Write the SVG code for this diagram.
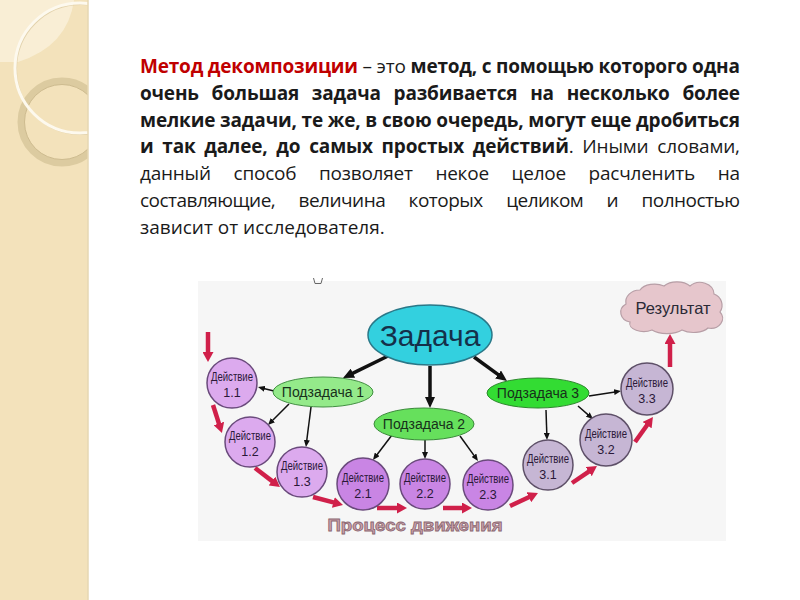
<svg xmlns="http://www.w3.org/2000/svg" width="800" height="600" viewBox="0 0 800 600">
<defs>
<style>
.p{font-family:"Open Sans","Noto Sans",sans-serif;font-size:19px;fill:#1a1a1a}
.b{font-weight:bold}
.red{fill:#c00000}
.lbl{font-family:"Liberation Sans",Arial,sans-serif;text-anchor:middle}
.act{font-size:12.5px;fill:#2a1838}
.sub{font-size:14px;fill:#17301a}
.c1{fill:#dcaaee;stroke:#6a4a7c;stroke-width:1.5}
.c2{fill:#c985e4;stroke:#6a4a7c;stroke-width:1.5}
.c3{fill:#c6b6d4;stroke:#5e5068;stroke-width:1.5}
.thick{stroke:#111;stroke-width:3.5;fill:none}
.thin{stroke:#111;stroke-width:1.5;fill:none}
.redl{stroke:#d0204a;stroke-width:4.5;fill:none}
</style>
<clipPath id="stripe"><rect x="0" y="0" width="88" height="600"/></clipPath>
<marker id="ahB" markerUnits="userSpaceOnUse" markerWidth="11" markerHeight="10" refX="1" refY="5" orient="auto"><path d="M0,0 L11,5 L0,10 Z" fill="#111"/></marker>
<marker id="ahT" markerUnits="userSpaceOnUse" markerWidth="7" markerHeight="6" refX="1" refY="3" orient="auto"><path d="M0,0 L7,3 L0,6 Z" fill="#111"/></marker>
<marker id="ahR" markerUnits="userSpaceOnUse" markerWidth="10" markerHeight="11" refX="1" refY="5.5" orient="auto"><path d="M0,0 L10,5.5 L0,11 Z" fill="#d0204a"/></marker>
</defs>

<rect width="800" height="600" fill="#ffffff"/>

<g id="decor">
<rect x="0" y="0" width="88" height="600" fill="#f3e2bb"/>
<g clip-path="url(#stripe)">
<path d="M0,0 H74 Q68,46 18,62 H0 Z" fill="#fbf3e0" opacity="0.7"/>
<circle cx="62" cy="122" r="41" fill="none" stroke="#dccba0" stroke-width="7"/>
<circle cx="62" cy="122" r="37.5" fill="none" stroke="#cdbb8f" stroke-width="1"/>
<circle cx="81" cy="69" r="65" fill="none" stroke="#d8c69a" stroke-width="2" opacity="0.7"/>
<circle cx="80" cy="68" r="65" fill="none" stroke="#fdf9ee" stroke-width="3"/>
</g>
<line x1="88" y1="0" x2="88" y2="600" stroke="#e6d7b3" stroke-width="1.5"/>
</g>

<g id="paragraph" class="p">
<text x="140" y="73" textLength="600" lengthAdjust="spacing"><tspan class="b red">Метод декомпозиции</tspan> – это <tspan class="b">метод, с помощью которого одна</tspan></text>
<text x="140" y="99.8" class="b" word-spacing="8" textLength="600" lengthAdjust="spacing">очень большая задача разбивается на несколько более</text>
<text x="140" y="126.6" class="b" textLength="600" lengthAdjust="spacing">мелкие задачи, те же, в свою очередь, могут еще дробиться</text>
<text x="140" y="153.4" word-spacing="4" textLength="600" lengthAdjust="spacing"><tspan class="b">и так далее, до самых простых действий</tspan>. Иными словами,</text>
<text x="140" y="180.2" word-spacing="18" textLength="600" lengthAdjust="spacing">данный способ позволяет некое целое расчленить на</text>
<text x="140" y="207" word-spacing="19" textLength="600" lengthAdjust="spacing">составляющие, величина которых целиком и полностью</text>
<text x="140" y="233.8">зависит от исследователя.</text>
</g>

<g id="picture-bg">
<rect x="198" y="281" width="528" height="260" fill="#f6f6f6"/>
<path d="M313.5,278 L315,283.5 L321,283.5 L322.5,278" fill="none" stroke="#666" stroke-width="1"/>
</g>

<g id="connectors">
<line class="thick" x1="388" y1="356" x2="352" y2="373.6" marker-end="url(#ahB)"/>
<line class="thick" x1="430" y1="366" x2="430" y2="398" marker-end="url(#ahB)"/>
<line class="thick" x1="474" y1="357" x2="498.9" y2="375.1" marker-end="url(#ahB)"/>
<line class="thin" x1="274" y1="391" x2="263.8" y2="388.5" marker-end="url(#ahT)"/>
<line class="thin" x1="289" y1="404" x2="272.2" y2="420.8" marker-end="url(#ahT)"/>
<line class="thin" x1="311" y1="407" x2="306.7" y2="441" marker-end="url(#ahT)"/>
<line class="thin" x1="392" y1="435" x2="376.6" y2="455.2" marker-end="url(#ahT)"/>
<line class="thin" x1="425" y1="440" x2="425" y2="453" marker-end="url(#ahT)"/>
<line class="thin" x1="460" y1="436" x2="474.5" y2="456.1" marker-end="url(#ahT)"/>
<line class="thin" x1="589" y1="396" x2="615.1" y2="391.9" marker-end="url(#ahT)"/>
<line class="thin" x1="546" y1="410" x2="546.8" y2="434" marker-end="url(#ahT)"/>
<line class="thin" x1="578" y1="406" x2="588.5" y2="415.1" marker-end="url(#ahT)"/>
<line class="redl" x1="208" y1="332" x2="208" y2="353" marker-end="url(#ahR)"/>
<line class="redl" x1="213" y1="405" x2="219.2" y2="424.4" marker-end="url(#ahR)"/>
<line class="redl" x1="255" y1="468" x2="272.8" y2="481.6" marker-end="url(#ahR)"/>
<line class="redl" x1="313" y1="497" x2="334.3" y2="502.7" marker-end="url(#ahR)"/>
<line class="redl" x1="377" y1="508" x2="398" y2="508" marker-end="url(#ahR)"/>
<line class="redl" x1="443" y1="508" x2="463" y2="508" marker-end="url(#ahR)"/>
<line class="redl" x1="510" y1="506" x2="529.8" y2="496.8" marker-end="url(#ahR)"/>
<line class="redl" x1="572" y1="483" x2="589.5" y2="471.1" marker-end="url(#ahR)"/>
<line class="redl" x1="635" y1="442" x2="647.7" y2="424.3" marker-end="url(#ahR)"/>
<line class="redl" x1="670" y1="367" x2="670" y2="343" marker-end="url(#ahR)"/>
</g>

<g id="zadacha">
<ellipse cx="430" cy="335" rx="62" ry="30" fill="#33d0df" stroke="#2a7888" stroke-width="1.5"/>
<text class="lbl" x="430" y="346" font-size="30" fill="#15304a">Задача</text>
</g>
<g id="podzadacha1">
<ellipse cx="323" cy="392" rx="50" ry="15" fill="#94ea8a" stroke="#3f8f3f" stroke-width="1"/>
<text class="lbl sub" x="323" y="397">Подзадача 1</text>
</g>
<g id="podzadacha2">
<ellipse cx="424" cy="424" rx="50" ry="16" fill="#66e05c" stroke="#3a8a3a" stroke-width="1"/>
<text class="lbl sub" x="424" y="429">Подзадача 2</text>
</g>
<g id="podzadacha3">
<ellipse cx="538" cy="393" rx="51" ry="15" fill="#33dc33" stroke="#2a882a" stroke-width="1"/>
<text class="lbl sub" x="538" y="398">Подзадача 3</text>
</g>

<g id="action11"><circle class="c1" cx="232" cy="383" r="25"/><text class="lbl act" x="232" y="381" textLength="42" lengthAdjust="spacingAndGlyphs">Действие</text><text class="lbl act" x="232" y="397">1.1</text></g>
<g id="action12"><circle class="c1" cx="250" cy="442" r="25"/><text class="lbl act" x="250" y="440" textLength="42" lengthAdjust="spacingAndGlyphs">Действие</text><text class="lbl act" x="250" y="456">1.2</text></g>
<g id="action13"><circle class="c1" cx="302" cy="472" r="25"/><text class="lbl act" x="302" y="470" textLength="42" lengthAdjust="spacingAndGlyphs">Действие</text><text class="lbl act" x="302" y="486">1.3</text></g>
<g id="action21"><circle class="c2" cx="363" cy="484" r="26"/><text class="lbl act" x="363" y="482" textLength="42" lengthAdjust="spacingAndGlyphs">Действие</text><text class="lbl act" x="363" y="498">2.1</text></g>
<g id="action22"><circle class="c2" cx="425" cy="484" r="25"/><text class="lbl act" x="425" y="482" textLength="42" lengthAdjust="spacingAndGlyphs">Действие</text><text class="lbl act" x="425" y="498">2.2</text></g>
<g id="action23"><circle class="c2" cx="488" cy="485" r="25"/><text class="lbl act" x="488" y="483" textLength="42" lengthAdjust="spacingAndGlyphs">Действие</text><text class="lbl act" x="488" y="499">2.3</text></g>
<g id="action31"><circle class="c3" cx="548" cy="465" r="25"/><text class="lbl act" x="548" y="463" textLength="42" lengthAdjust="spacingAndGlyphs">Действие</text><text class="lbl act" x="548" y="479">3.1</text></g>
<g id="action32"><circle class="c3" cx="606" cy="440" r="26"/><text class="lbl act" x="606" y="438" textLength="42" lengthAdjust="spacingAndGlyphs">Действие</text><text class="lbl act" x="606" y="454">3.2</text></g>
<g id="action33"><circle class="c3" cx="647" cy="389" r="26"/><text class="lbl act" x="647" y="387" textLength="42" lengthAdjust="spacingAndGlyphs">Действие</text><text class="lbl act" x="647" y="403">3.3</text></g>

<g id="result">
<path d="M630,322 a12,10 0 0 1 -4,-18 a14,12 0 0 1 14,-14 a16,10 0 0 1 24,-4 a16,10 0 0 1 26,0 a14,12 0 0 1 24,8 a12,12 0 0 1 6,18 a12,10 0 0 1 -12,16 a16,8 0 0 1 -26,2 a18,8 0 0 1 -30,0 a14,8 0 0 1 -22,-8 Z" fill="#e6c6cc" stroke="#b79ea6" stroke-width="1.2"/>
<text class="lbl" x="673" y="314" font-size="16.5" fill="#2a2a36">Результат</text>
</g>

<g id="process-label">
<text class="lbl" x="415" y="531" font-size="17" font-weight="bold" fill="#c9a1aa" stroke="#8a6670" stroke-width="0.8" textLength="175" lengthAdjust="spacingAndGlyphs">Процесс движения</text>
</g>
</svg>
